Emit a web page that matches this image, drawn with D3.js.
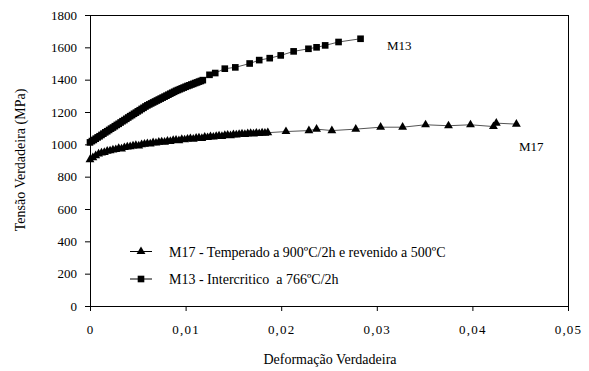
<!DOCTYPE html>
<html>
<head>
<meta charset="utf-8">
<script src="https://cdn.jsdelivr.net/npm/d3@7"></script>
<style>
  html, body { margin: 0; padding: 0; background: #fff; }
  svg { display: block; }
  text { font-family: "Liberation Serif", "Times New Roman", serif; fill: #000; white-space: pre; }
</style>
</head>
<body>
<svg id="chart" width="589" height="371"></svg>
<script>
// ---- data ----
const seriesNames = ["M17 - Temperado a 900ºC/2h e revenido a 500ºC", "M13 - Intercritico  a 766ºC/2h"];
const curveLabels = ["M17", "M13"];

const strainM17 = [0.0000,0.0003,0.0006,0.0009,0.0012,0.0015,0.0018,0.0021,0.0024,0.0027,
  0.0030,0.0033,0.0036,0.0039,0.0042,0.0045,0.0048,0.0051,0.0054,0.0057,
  0.0060,0.0063,0.0066,0.0069,0.0072,0.0075,0.0078,0.0081,0.0084,0.0087,
  0.0090,0.0093,0.0096,0.0099,0.0102,0.0105,0.0108,0.0111,0.0114,0.0117,
  0.0120,0.0123,0.0126,0.0129,0.0132,0.0135,0.0138,0.0141,0.0144,0.0147,
  0.0150,0.0153,0.0156,0.0159,0.0162,0.0165,0.0168,0.0171,0.0174,0.0177,
  0.0180,0.0183,0.0186,
  0.0205,0.0229,0.0237,0.0253,0.0278,0.0304,0.0327,0.0351,0.0375,0.0398,0.0422,0.0425,0.0446];
const stressM17 = [905,918,930,941,947,950,958,960,966,968,
  975,972,980,984,986,990,993,990,998,1001,
  1005,1003,1010,1008,1013,1016,1014,1020,1018,1024,
  1026,1023,1030,1028,1033,1036,1032,1038,1040,1037,
  1044,1042,1047,1045,1050,1052,1049,1055,1057,1054,
  1060,1058,1062,1065,1061,1066,1068,1064,1070,1067,
  1071,1069,1072,
  1079,1085,1094,1085,1094,1106,1106,1121,1115,1121,1110,1131,1125];

const strainM13 = [0.0000,0.0002,0.0004,0.0006,0.0008,0.0010,0.0012,0.0014,0.0016,0.0018,
  0.0020,0.0022,0.0024,0.0026,0.0028,0.0030,0.0032,0.0034,0.0036,0.0038,
  0.0040,0.0042,0.0044,0.0046,0.0048,0.0050,0.0052,0.0054,0.0056,0.0058,
  0.0060,0.0062,0.0064,0.0066,0.0068,0.0070,0.0072,0.0074,0.0076,0.0078,
  0.0080,0.0082,0.0084,0.0086,0.0088,0.0090,0.0092,0.0094,0.0096,0.0098,
  0.0100,0.0102,0.0104,0.0106,0.0108,0.0110,0.0112,0.0114,0.0116,0.0118,
  0.0125,0.0131,0.0141,0.0152,0.0167,0.0177,0.0188,0.01995,0.0213,0.02285,0.0237,0.0246,0.0260,0.0283];
const stressM13 = [1012,1020,1027,1035,1043,1050,1058,1066,1074,1081,
  1089,1097,1104,1112,1120,1127,1135,1143,1150,1158,
  1166,1174,1181,1189,1196,1204,1211,1219,1226,1234,
  1241,1247,1253,1259,1265,1271,1277,1283,1289,1295,
  1301,1307,1313,1319,1325,1331,1336,1341,1346,1351,
  1356,1361,1365,1370,1374,1379,1383,1388,1392,1397,
  1430,1441,1468,1476,1500,1521,1533,1550,1575,1591,1600,1612,1633,1653];

const xTicks = [0, 0.01, 0.02, 0.03, 0.04, 0.05];
const xTickLabels = ["0", "0,01", "0,02", "0,03", "0,04", "0,05"];
const yTicks = [0, 200, 400, 600, 800, 1000, 1200, 1400, 1600, 1800];
const xTitle = "Deformação Verdadeira";
const yTitle = "Tensão Verdadeira (MPa)";

// ---- drawing ----
const svg = d3.select("#chart");
const x = d3.scaleLinear().domain([0, 0.05]).range([90, 568]);
const y = d3.scaleLinear().domain([0, 1800]).range([306, 15]);
const serif = '"Liberation Serif", "Times New Roman", serif';

// frame (top/right)
svg.append("line").attr("x1", 90).attr("x2", 568).attr("y1", 15.5).attr("y2", 15.5)
  .attr("stroke", "#000").attr("stroke-width", 1);
svg.append("line").attr("x1", 568.5).attr("x2", 568.5).attr("y1", 15).attr("y2", 306)
  .attr("stroke", "#000").attr("stroke-width", 1);

const xAxis = d3.axisBottom(x).tickValues(xTicks)
  .tickFormat((d, i) => xTickLabels[i]).tickSize(5).tickSizeOuter(0).tickPadding(14);
const gx = svg.append("g").attr("transform", "translate(0,306)").call(xAxis)
  .attr("font-family", serif).attr("font-size", 13);
gx.selectAll("text").style("letter-spacing", "1.2px");

const yAxis = d3.axisLeft(y).tickValues(yTicks).tickFormat(d3.format("d"))
  .tickSize(5).tickSizeOuter(0).tickPadding(8);
const gy = svg.append("g").attr("transform", "translate(90,0)").call(yAxis)
  .attr("font-family", serif).attr("font-size", 13);

[gx, gy].forEach(g => {
  g.selectAll("path, line").attr("stroke", "#000");
});

// titles
svg.append("text").attr("x", 330).attr("y", 364).attr("text-anchor", "middle")
  .style("font-size", "14px").text(xTitle);
svg.append("text").attr("transform", "translate(25,160) rotate(-90)")
  .attr("text-anchor", "middle").style("font-size", "14px").text(yTitle);

const tri = d3.symbol().type(d3.symbolTriangle).size(34);
const sq = d3.symbol().type(d3.symbolSquare).size(44);

function drawSeries(xs, ys, sym) {
  const pts = xs.map((v, i) => [v, ys[i]]);
  const line = d3.line().x(d => x(d[0])).y(d => y(d[1]));
  svg.append("path").datum(pts).attr("d", line)
    .attr("fill", "none").attr("stroke", "#555").attr("stroke-width", 1);
  svg.append("g").selectAll("path").data(pts).join("path")
    .attr("transform", d => `translate(${x(d[0])},${y(d[1])})`)
    .attr("d", sym).attr("fill", "#000");
}
drawSeries(strainM17, stressM17, tri);
drawSeries(strainM13, stressM13, sq);

// curve labels
svg.append("text").attr("x", 519).attr("y", 151).style("font-size", "13px").text(curveLabels[0]);
svg.append("text").attr("x", 387).attr("y", 50).style("font-size", "13px").text(curveLabels[1]);

// legend
const legendY = [251.5, 279];
const syms = [tri, sq];
seriesNames.forEach((name, i) => {
  const g = svg.append("g").attr("transform", `translate(0,${legendY[i]})`);
  g.append("line").attr("x1", 130).attr("x2", 152).attr("y1", 0).attr("y2", 0)
    .attr("stroke", "#000").attr("stroke-width", 1);
  g.append("path").attr("transform", "translate(141,0)").attr("d", syms[i]).attr("fill", "#000");
  g.append("text").attr("x", 169).attr("y", 5).attr("xml:space", "preserve")
    .style("font-size", "14px").text(name);
});
</script>
</body>
</html>
